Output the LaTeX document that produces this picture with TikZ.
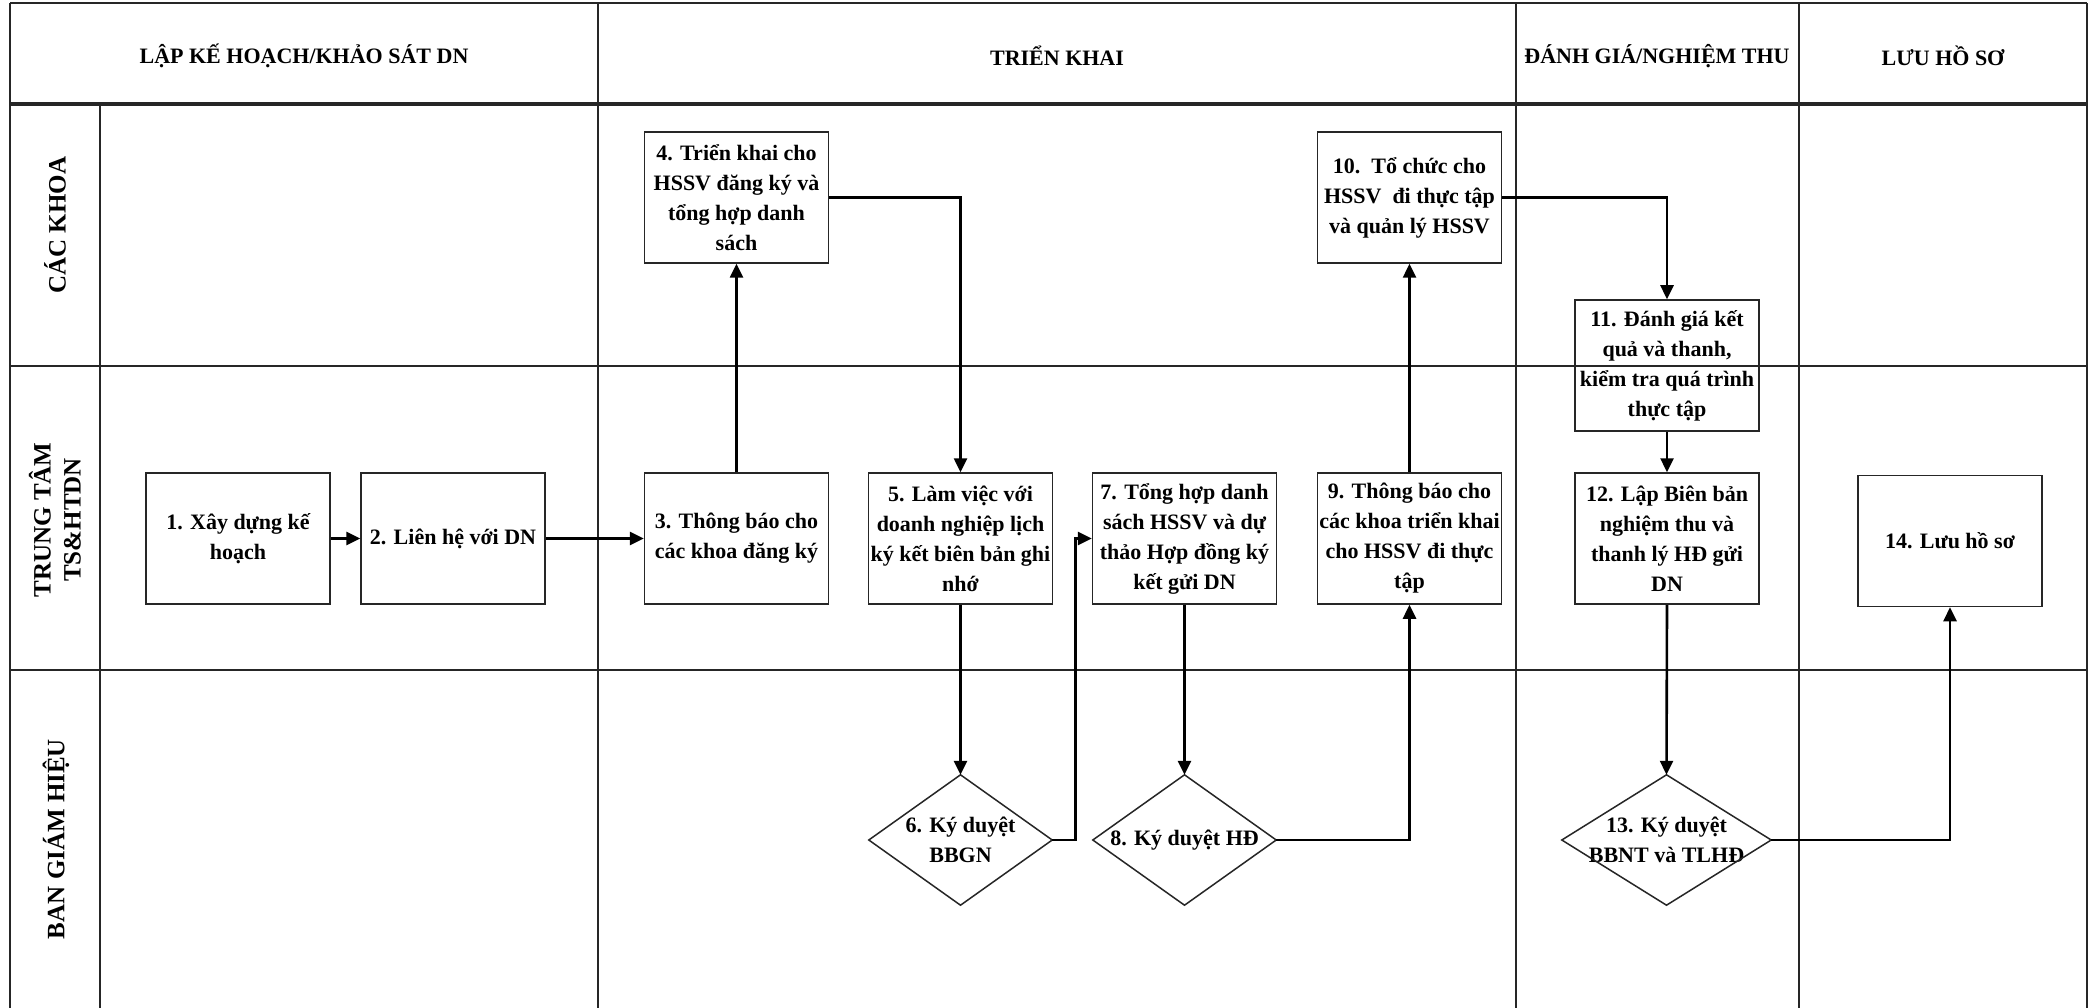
\documentclass[tikz,border=0pt]{standalone}
\usepackage{fontspec}
\setmainfont{Liberation Serif}
\usetikzlibrary{arrows.meta}
\begin{document}
\begin{tikzpicture}[x=1pt,y=-1pt,
  txt/.style={font=\bfseries\fontsize{22pt}{30pt}\selectfont, align=center, inner sep=0pt},
  box/.style={txt, draw=black!85, line width=1.5pt, minimum width=184pt, minimum height=131pt},
  dia/.style={txt, minimum height=130pt},
  hdr/.style={font=\bfseries\fontsize{22pt}{26pt}\selectfont, inner sep=0pt},
  lane/.style={rotate=90, align=center, inner sep=0pt, font=\bfseries\fontsize{25pt}{30pt}\selectfont},
  conn/.style={line width=2.6pt, draw=black, -{Triangle[length=14pt,width=13pt]}},
  thinline/.style={line width=1.4pt, draw=black!85},
  laneline/.style={line width=2.2pt, draw=black!85}
]
\useasboundingbox (0,0) rectangle (2096,1008);
\fill[white] (0,0) rectangle (2096,1008);

% grid
\draw[line width=2.5pt, draw=black!85] (10,3) -- (2087,3);
\draw[line width=3.2pt, draw=black!85] (10,104) -- (2087,104);
\draw[laneline] (10,366) -- (2087,366);
\draw[laneline] (10,670) -- (2087,670);
\draw[line width=2pt, draw=black!85] (10,3) -- (10,1008);
\draw[line width=2pt, draw=black!85] (2087,3) -- (2087,1008);
\draw[thinline] (100,104) -- (100,1008);
\draw[thinline] (598,3) -- (598,1008);
\draw[thinline] (1516,3) -- (1516,1008);
\draw[thinline] (1799,3) -- (1799,1008);

% headers
\node[hdr] (h1) at (304,56) {LẬP KẾ HOẠCH/KHẢO SÁT DN};
\node[hdr] (h2) at (1057,56) {TRIỂN KHAI};
\node[hdr] (h3) at (1657,56) {ĐÁNH GIÁ/NGHIỆM THU};
\node[hdr] (h4) at (1943,56) {LƯU HỒ SƠ};

% lane labels
\node[lane] (l1) at (55,225) {CÁC KHOA};
\node[lane] (l2) at (55,520) {TRUNG TÂM\\TS\&HTDN};
\node[lane] (l3) at (56,839) {BAN GIÁM HIỆU};

% boxes
\node[box] (b1) at (238,538.5) {1. Xây dựng kế\\hoạch};
\node[box] (b2) at (453,538.5) {2. Liên hệ với DN};
\node[box] (b3) at (736.5,538.5) {3. Thông báo cho\\các khoa đăng ký};
\node[box] (b4) at (736.5,197.5) {4. Triển khai cho\\HSSV đăng ký và\\tổng hợp danh\\sách};
\node[box] (b5) at (960.5,538.5) {5. Làm việc với\\doanh nghiệp lịch\\ký kết biên bản ghi\\nhớ};
\node[box] (b7) at (1184.5,538.5) {7. Tổng hợp danh\\sách HSSV và dự\\thảo Hợp đồng ký\\kết gửi DN};
\node[box] (b9) at (1409.5,538.5) {9. Thông báo cho\\các khoa triển khai\\cho HSSV đi thực\\tập};
\node[box] (b10) at (1409.5,197.5) {10.\ \ Tổ chức cho\\HSSV\ \ đi thực tập\\và quản lý HSSV};
\node[box] (b11) at (1667,365.5) {11. Đánh giá kết\\quả và thanh,\\kiểm tra quá trình\\thực tập};
\node[box] (b12) at (1667,538.5) {12. Lập Biên bản\\nghiệm thu và\\thanh lý HĐ gửi\\DN};
\node[box] (b14) at (1950,541) {14. Lưu hồ sơ};

% diamonds
\node[dia, minimum width=183pt] (d6) at (960.5,840) {6. Ký duyệt\\BBGN};
\node[dia, minimum width=183pt] (d8) at (1184.5,840) {8. Ký duyệt HĐ};
\node[dia, minimum width=209pt] (d13) at (1666.5,840) {13. Ký duyệt\\BBNT và TLHĐ};
\foreach \d in {d6,d8,d13}
  \draw[draw=black!85, line width=1.5pt, line join=miter] (\d.north) -- (\d.east) -- (\d.south) -- (\d.west) -- cycle;

% connectors
\draw[conn] (b1.east) -- (b2.west);
\draw[conn] (b2.east) -- (b3.west);
\draw[conn] (b3.north) -- (b4.south);
\draw[conn] (b4.east) -| (b5.north);
\draw[conn] (b5.south) -- (d6.north);
\draw[conn] (d6.east) -- ++(23,0) |- (b7.west);
\draw[conn] (b7.south) -- (d8.north);
\draw[conn] (d8.east) -| (b9.south);
\draw[conn] (b9.north) -- (b10.south);
\draw[conn] (b10.east) -| (b11.north);
\draw[conn] (b11.south) -- (b12.north);
\draw[conn] (b12.south) -- (d13.north);
\draw[conn] (d13.east) -| (b14.south);
\end{tikzpicture}
\end{document}
